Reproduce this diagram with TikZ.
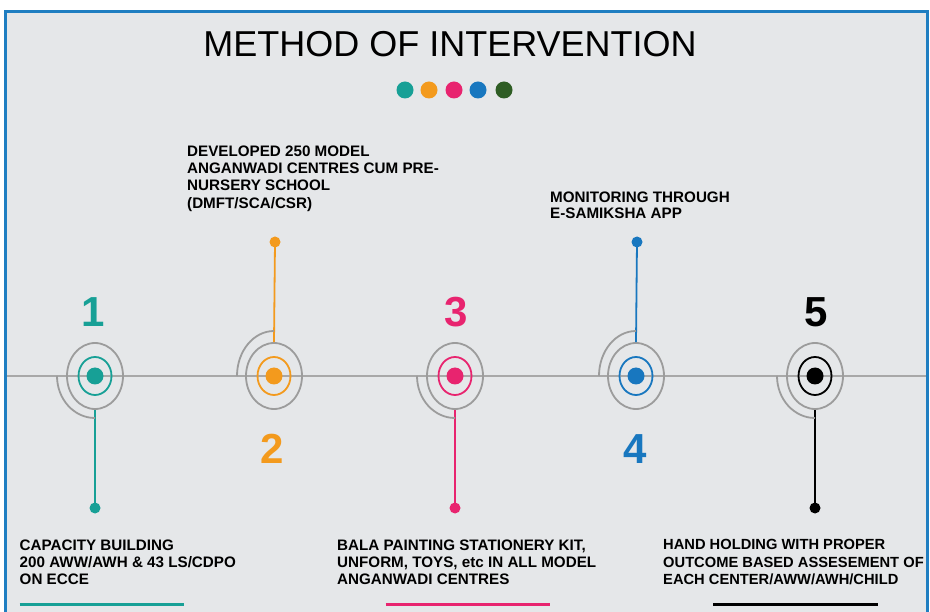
\documentclass[tikz,border=0pt]{standalone}
\usepackage{fontspec}
\setmainfont{Liberation Sans}
\usetikzlibrary{shapes.geometric}
\definecolor{cteal}{HTML}{17A096}
\definecolor{corange}{HTML}{F39A1D}
\definecolor{cpink}{HTML}{E8246F}
\definecolor{cblue}{HTML}{1877BF}
\definecolor{cgreen}{HTML}{2E5D24}
\definecolor{ringgray}{HTML}{9C9C9C}
\definecolor{axisgray}{HTML}{A8A8A8}
\definecolor{bggray}{HTML}{E5E7E9}
\definecolor{framblue}{HTML}{1F7EC1}
\begin{document}
\begin{tikzpicture}[x=1pt,y=-1pt,
  outerring/.style={ellipse, draw=ringgray, line width=1.8pt, minimum width=56pt, minimum height=66pt, inner sep=0pt},
  innerring/.style={ellipse, line width=1.8pt, minimum width=33pt, minimum height=38pt, inner sep=0pt},
  hub/.style={circle, inner sep=0pt, minimum size=17pt},
  tipdot/.style={circle, inner sep=0pt, minimum size=11pt},
  spoke/.style={line width=1.8pt},
  quarter/.style={draw=ringgray, line width=1.8pt},
  numlabel/.style={anchor=base, inner sep=0pt, font=\fontsize{42}{42}\selectfont\bfseries},
  desc/.style={anchor=north west, inner sep=0pt, align=left, font=\fontsize{15.2}{17.3}\selectfont\bfseries},
  topdot/.style={circle, inner sep=0pt, minimum size=17pt}
]
\useasboundingbox (0,0) rectangle (930,612);
\fill[white] (0,0) rectangle (930,612);
\fill[bggray] (5,12) rectangle (927,612);

% title
\node[anchor=base, inner sep=0pt, font=\fontsize{36}{36}\selectfont] (title) at (450,57) {METHOD OF INTERVENTION};
\node[topdot, fill=cteal] (p1) at (405,90) {};
\node[topdot, fill=corange] (p2) at (429,90) {};
\node[topdot, fill=cpink] (p3) at (454,90) {};
\node[topdot, fill=cblue] (p4) at (478,90) {};
\node[topdot, fill=cgreen] (p5) at (504,90) {};

% axis
\coordinate (axL) at (5,376);
\coordinate (axR) at (927,376);
\draw[axisgray, line width=1.5pt] (axL) -- (axR);

% step 1
\node[outerring] (o1) at (95,376) {};
\node[innerring, draw=cteal] (i1) at (95,376) {};
\node[hub, fill=cteal] (h1) at (95,376) {};
\node[tipdot, fill=cteal] (t1) at (95,508) {};
\draw[spoke, cteal] (o1.south) -- (t1.center);
\draw[quarter] ([xshift=-38pt]o1.center) arc[start angle=180, end angle=270, x radius=38pt, y radius=42pt];
\node[numlabel, text=cteal] (n1) at (93.5,327) {1};

% step 2
\node[outerring] (o2) at (274,376) {};
\node[innerring, draw=corange] (i2) at (274,376) {};
\node[hub, fill=corange] (h2) at (274,376) {};
\node[tipdot, fill=corange] (t2) at (275,242) {};
\draw[spoke, corange] (o2.north) -- (t2.center);
\draw[quarter] ([xshift=-37pt]o2.center) arc[start angle=180, end angle=90, x radius=37pt, y radius=45pt];
\node[numlabel, text=corange] (n2) at (272.5,464) {2};

% step 3
\node[outerring] (o3) at (455,376) {};
\node[innerring, draw=cpink] (i3) at (455,376) {};
\node[hub, fill=cpink] (h3) at (455,376) {};
\node[tipdot, fill=cpink] (t3) at (455,508) {};
\draw[spoke, cpink] (o3.south) -- (t3.center);
\draw[quarter] ([xshift=-38pt]o3.center) arc[start angle=180, end angle=270, x radius=38pt, y radius=42pt];
\node[numlabel, text=cpink] (n3) at (456,327) {3};

% step 4
\node[outerring] (o4) at (636,376) {};
\node[innerring, draw=cblue] (i4) at (636,376) {};
\node[hub, fill=cblue] (h4) at (636,376) {};
\node[tipdot, fill=cblue] (t4) at (637,242) {};
\draw[spoke, cblue] (o4.north) -- (t4.center);
\draw[quarter] ([xshift=-37pt]o4.center) arc[start angle=180, end angle=90, x radius=37pt, y radius=45pt];
\node[numlabel, text=cblue] (n4) at (635.5,464) {4};

% step 5
\node[outerring] (o5) at (815,376) {};
\node[innerring, draw=black] (i5) at (815,376) {};
\node[hub, fill=black] (h5) at (815,376) {};
\node[tipdot, fill=black] (t5) at (815,508) {};
\draw[spoke, black] (o5.south) -- (t5.center);
\draw[quarter] ([xshift=-38pt]o5.center) arc[start angle=180, end angle=270, x radius=38pt, y radius=42pt];
\node[numlabel, text=black] (n5) at (816,327) {5};

% descriptions
\node[desc] (d2) at (187,145.5) {DEVELOPED 250 MODEL\\ANGANWADI CENTRES CUM PRE-\\NURSERY SCHOOL\\(DMFT/SCA/CSR)};
\node[desc, font=\fontsize{15.2}{15.2}\selectfont\bfseries] (d4) at (550,192) {MONITORING THROUGH\\E-SAMIKSHA APP};
\node[desc] (d1) at (19.5,539.5) {CAPACITY BUILDING\\200 AWW/AWH \& 43 LS/CDPO\\ON ECCE};
\node[desc] (d3) at (337,539.5) {BALA PAINTING STATIONERY KIT,\\UNFORM, TOYS, etc IN ALL MODEL\\ANGANWADI CENTRES};
\node[desc, font=\fontsize{14.7}{17.3}\selectfont\bfseries] (d5) at (663,539.5) {HAND HOLDING WITH PROPER\\OUTCOME BASED ASSESEMENT OF\\EACH CENTER/AWW/AWH/CHILD};

% underlines
\draw[cteal, line width=3pt] (19.5,604) -- (184,604);
\draw[cpink, line width=3pt] (385.5,604) -- (550,604);
\draw[black, line width=3pt] (713,604) -- (878,604);

% frame
\draw[framblue, line width=3pt] (5,614) -- (5,12) -- (927,12) -- (927,614);
\end{tikzpicture}
\end{document}
